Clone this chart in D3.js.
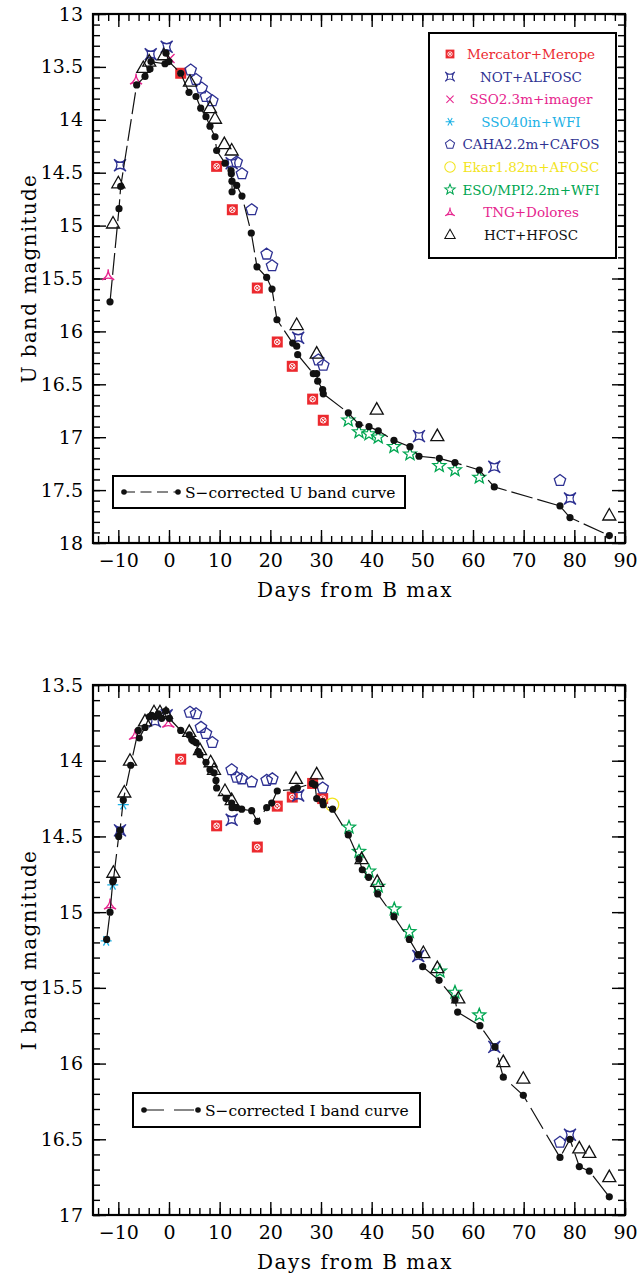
<!DOCTYPE html>
<html><head><meta charset="utf-8">
<script src="https://cdn.jsdelivr.net/npm/d3@7"></script>
<style>
body{margin:0;background:#fff}
svg text{font-family:"DejaVu Serif",serif}
</style></head>
<body><svg id="c" width="637" height="1275"></svg>
<script>
// ---------- DATA ----------
const xTickValues = [-10,0,10,20,30,40,50,60,70,80,90];
const uTickValues = [13,13.5,14,14.5,15,15.5,16,16.5,17,17.5,18];
const iTickValues = [13.5,14,14.5,15,15.5,16,16.5,17];
const instrumentNames = ["Mercator+Merope","NOT+ALFOSC","SSO2.3m+imager","SSO40in+WFI","CAHA2.2m+CAFOS","Ekar1.82m+AFOSC","ESO/MPI2.2m+WFI","TNG+Dolores","HCT+HFOSC"];

// U band: [day, mag]
const uCurve = [[-11.64,15.72],[-9.87,14.84],[-9.53,14.63],[-6.38,13.67],[-4.74,13.59],[-3.75,13.52],[-3.55,13.45],[-0.79,13.47],[-0.59,13.37],[0.0,13.45],[2.31,13.56],[3.95,13.74],[5.33,13.78],[6.26,13.89],[7.3,13.97],[8.09,14.06],[9.08,14.16],[9.41,14.29],[11.05,14.41],[12.24,14.48],[12.3,14.51],[12.43,14.58],[12.45,14.68],[13.36,14.62],[14.4,14.72],[16.24,15.07],[17.37,15.39],[19.28,15.49],[20.33,15.60],[21.31,15.89],[24.41,16.11],[25.2,16.14],[25.4,16.22],[28.48,16.40],[29.15,16.40],[29.35,16.47],[30.33,16.55],[30.45,16.59],[35.39,16.77],[37.5,16.88],[39.47,16.90],[41.3,16.94],[44.4,17.03],[47.56,17.09],[49.34,17.18],[53.35,17.20],[56.44,17.24],[61.24,17.31],[64.2,17.47],[77.17,17.65],[79.14,17.76],[86.9,17.93]];
const uMercator = [[2.31,13.56],[9.4,14.44],[12.5,14.85],[17.43,15.59],[21.37,16.10],[24.33,16.33],[28.35,16.64],[30.45,16.84]];
const uNOT = [[-9.67,14.43],[-3.61,13.38],[-0.46,13.31],[12.37,14.41],[25.5,16.06],[49.34,16.99],[64.2,17.28],[79.14,17.58]];
const uSSO23 = [[0.2,13.42]];
const uSSO40 = [];
const uCAHA = [[4.28,13.53],[5.33,13.62],[6.45,13.70],[7.3,13.78],[8.55,13.82],[13.36,14.40],[14.4,14.51],[16.32,14.85],[19.28,15.27],[20.33,15.38],[29.47,16.27],[30.45,16.32],[77.17,17.41]];
const uEkar = [];
const uESO = [[35.39,16.84],[37.5,16.95],[39.47,16.97],[41.3,17.00],[44.4,17.09],[47.56,17.16],[53.35,17.27],[56.44,17.31],[61.24,17.38]];
const uTNG = [[-12.0,15.47],[-6.5,13.62]];
const uHCT = [[-11.05,14.98],[-10.0,14.6],[-5.07,13.51],[-3.9,13.45],[-0.99,13.39],[4.14,13.64],[8.09,13.89],[9.08,13.99],[10.92,14.23],[12.37,14.29],[25.2,15.94],[29.15,16.21],[41.0,16.74],[52.96,16.99],[86.9,17.74]];

// I band: [day, mag]
const iCurve = [[-12.3,15.18],[-11.64,15.0],[-11.1,14.80],[-10.98,14.79],[-9.93,14.50],[-9.67,14.46],[-9.02,14.26],[-7.56,14.03],[-6.06,13.80],[-5.86,13.85],[-4.74,13.78],[-3.89,13.71],[-3.42,13.70],[-2.76,13.71],[-2.1,13.69],[-1.44,13.72],[-0.59,13.67],[0.06,13.72],[2.31,13.80],[4.0,13.83],[4.48,13.86],[4.79,13.87],[5.33,13.88],[5.78,13.94],[6.12,13.96],[7.3,14.01],[8.09,14.06],[8.88,14.08],[9.27,14.13],[9.4,14.18],[11.25,14.25],[12.37,14.28],[12.45,14.31],[13.36,14.31],[14.35,14.32],[16.32,14.33],[17.43,14.40],[19.28,14.31],[20.27,14.28],[21.37,14.20],[24.54,14.19],[25.33,14.18],[28.29,14.15],[28.82,14.16],[29.15,14.25],[30.33,14.27],[30.45,14.29],[32.3,14.32],[35.39,14.49],[37.5,14.65],[38.15,14.72],[39.4,14.77],[41.19,14.88],[44.4,15.03],[47.43,15.18],[49.2,15.28],[50.07,15.36],[53.3,15.45],[56.44,15.58],[56.97,15.66],[61.37,15.75],[64.34,15.89],[65.98,16.09],[69.93,16.21],[77.17,16.62],[79.14,16.50],[80.98,16.68],[82.95,16.71],[86.9,16.88]];
const iMercator = [[2.31,13.99],[9.4,14.43],[17.43,14.57],[21.37,14.30],[24.33,14.24],[28.35,14.15],[30.33,14.25]];
const iNOT = [[-9.67,14.46],[-2.76,13.74],[-0.46,13.70],[12.37,14.39],[25.5,14.23],[49.2,15.29],[64.2,15.89],[79.14,16.47]];
const iSSO23 = [];
const iSSO40 = [[-12.4,15.19],[-11.1,14.82],[-9.02,14.29]];
const iCAHA = [[4.14,13.68],[5.33,13.69],[6.31,13.78],[7.3,13.82],[8.55,13.88],[12.37,14.06],[13.36,14.11],[14.35,14.12],[16.32,14.14],[19.28,14.13],[20.39,14.12],[30.33,14.18],[77.17,16.52]];
const iEkar = [[32.22,14.29]];
const iESO = [[35.52,14.44],[37.5,14.60],[39.47,14.73],[41.3,14.83],[44.46,14.98],[47.43,15.13],[53.48,15.39],[56.44,15.53],[61.24,15.68]];
const iTNG = [[-11.64,14.95],[-6.71,13.83],[-0.14,13.75]];
const iHCT = [[-10.98,14.74],[-8.82,14.21],[-7.7,14.0],[-4.74,13.74],[-2.96,13.68],[-1.78,13.68],[-0.59,13.69],[4.0,13.81],[6.12,13.93],[8.22,14.01],[8.88,14.06],[11.05,14.20],[12.37,14.26],[25.06,14.12],[29.15,14.09],[38.02,14.65],[41.1,14.80],[50.2,15.27],[52.96,15.37],[57.1,15.57],[65.98,15.99],[69.93,16.10],[80.98,16.56],[82.95,16.59],[86.9,16.75]];

// ---------- STYLE ----------
const RED="#ec2a2f", NAVY="#2e3192", MAG="#e6248d", CYAN="#1db2e6", YEL="#f2e41c", GRN="#00a651";
const symKinds = ["merc","astroid","cross","aster","penta","circle","star","tng","tri"];
const symColors = [RED,NAVY,MAG,CYAN,NAVY,YEL,GRN,MAG,"#111"];

const svg = d3.select("#c");
const X0=93, X1=625;

function polyPath(pts){return "M"+pts.map(p=>p[0].toFixed(2)+","+p[1].toFixed(2)).join("L")+"Z";}
function drawSym(g, kind, color, x, y, k){
  k = k||1;
  const s = g.append("g").attr("transform",`translate(${x},${y}) scale(${k})`);
  const st = {fill:"none",stroke:color,"stroke-width":1.3};
  const ap=(sel)=>{for(const a in st) sel.attr(a,st[a]); return sel;};
  if(kind==="merc"){
    s.append("rect").attr("x",-5.5).attr("y",-5.5).attr("width",11).attr("height",11).attr("fill",color);
    s.append("circle").attr("r",2.8).attr("fill","none").attr("stroke","#fff").attr("stroke-width",1);
    s.append("path").attr("d","M-2,-2L2,2M-2,2L2,-2").attr("stroke","#fff").attr("stroke-width",1);
  } else if(kind==="astroid"){
    const r=6;
    ap(s.append("path").attr("d",`M${-r},${-r}Q0,0 ${r},${-r}Q0,0 ${r},${r}Q0,0 ${-r},${r}Q0,0 ${-r},${-r}Z`));
  } else if(kind==="cross"){
    ap(s.append("path").attr("d","M-4.5,-4.5L4.5,4.5M-4.5,4.5L4.5,-4.5"));
  } else if(kind==="aster"){
    const r=5.5, p=[];
    for(let i=0;i<3;i++){const a=i*Math.PI/3; p.push(`M${-r*Math.cos(a)},${-r*Math.sin(a)}L${r*Math.cos(a)},${r*Math.sin(a)}`);}
    ap(s.append("path").attr("d",p.join("")));
  } else if(kind==="penta"){
    const r=6, pts=[];
    for(let i=0;i<5;i++){const a=-Math.PI/2+i*2*Math.PI/5; pts.push([r*Math.cos(a),r*Math.sin(a)]);}
    ap(s.append("path").attr("d",polyPath(pts)));
  } else if(kind==="circle"){
    ap(s.append("circle").attr("r",6.5));
  } else if(kind==="star"){
    const R=6.8, r=2.9, pts=[];
    for(let i=0;i<10;i++){const a=-Math.PI/2+i*Math.PI/5; const rr=i%2?r:R; pts.push([rr*Math.cos(a),rr*Math.sin(a)]);}
    ap(s.append("path").attr("d",polyPath(pts)));
  } else if(kind==="tng"){
    const r=7, v=[];
    for(let i=0;i<3;i++){const a=-Math.PI/2+i*2*Math.PI/3; v.push([r*Math.cos(a),r*Math.sin(a)+1]);}
    ap(s.append("path").attr("d",`M${v[0]}Q0,1 ${v[1]}Q0,1 ${v[2]}Q0,1 ${v[0]}Z`));
  } else if(kind==="tri"){
    ap(s.append("path").attr("d","M0,-7L6.5,4.5L-6.5,4.5Z"));
  }
}

function panel(cfg){
  const x = d3.scaleLinear().domain([-15,90]).range([X0,X1]);
  const y = d3.scaleLinear().domain(cfg.ydom).range([cfg.y0,cfg.y1]);
  const g = svg.append("g");
  const minorX = d3.range(-14,90.01,2);
  const minorY = d3.range(Math.round(cfg.ydom[0]*10), Math.round(cfg.ydom[1]*10)+1).map(v=>v/10);
  const fmtX = d=> d<0 ? "\u2212"+Math.abs(d) : String(d);
  const fmtY = d=> String(+d.toFixed(1));
  const styleAxis = sel=>{sel.select(".domain").remove(); sel.selectAll("line").attr("stroke","#000").attr("stroke-width",1.4);
    sel.selectAll("text").attr("font-family","DejaVu Serif").attr("font-size",19).attr("fill","#000");};
  g.append("g").attr("transform",`translate(0,${cfg.y1})`).call(d3.axisBottom(x).tickValues(minorX).tickSize(-7).tickFormat("")).call(styleAxis);
  g.append("g").attr("transform",`translate(0,${cfg.y1})`).call(d3.axisBottom(x).tickValues(xTickValues).tickSize(-13).tickPadding(11).tickFormat(fmtX)).call(styleAxis);
  g.append("g").attr("transform",`translate(0,${cfg.y0})`).call(d3.axisTop(x).tickValues(minorX).tickSize(-7).tickFormat("")).call(styleAxis);
  g.append("g").attr("transform",`translate(0,${cfg.y0})`).call(d3.axisTop(x).tickValues(xTickValues).tickSize(-13).tickFormat("")).call(styleAxis);
  g.append("g").attr("transform",`translate(${X0},0)`).call(d3.axisLeft(y).tickValues(minorY).tickSize(-7).tickFormat("")).call(styleAxis);
  g.append("g").attr("transform",`translate(${X0},0)`).call(d3.axisLeft(y).tickValues(cfg.ticks).tickSize(-13).tickPadding(10).tickFormat(fmtY)).call(styleAxis);
  g.append("g").attr("transform",`translate(${X1},0)`).call(d3.axisRight(y).tickValues(minorY).tickSize(-7).tickFormat("")).call(styleAxis);
  g.append("g").attr("transform",`translate(${X1},0)`).call(d3.axisRight(y).tickValues(cfg.ticks).tickSize(-13).tickFormat("")).call(styleAxis);
  g.append("rect").attr("x",X0).attr("y",cfg.y0).attr("width",X1-X0).attr("height",cfg.y1-cfg.y0)
    .attr("fill","none").attr("stroke","#000").attr("stroke-width",2.2);
  g.append("text").attr("x",355).attr("y",cfg.y1+54).attr("text-anchor","middle").attr("font-size",20)
    .attr("letter-spacing",1.5).text("Days from B max");
  g.append("text").attr("transform",`translate(36,${(cfg.y0+cfg.y1)/2}) rotate(-90)`).attr("text-anchor","middle")
    .attr("font-size",20).attr("letter-spacing",1.3).text(cfg.ytitle);
  const sg = g.append("g");
  cfg.sets.forEach((arr,i)=>{ arr.forEach(d=>drawSym(sg, symKinds[i], symColors[i], x(d[0]), y(d[1]), 1)); });
  const line = d3.line().x(d=>x(d[0])).y(d=>y(d[1]));
  g.append("path").datum(cfg.curve).attr("d",line).attr("fill","none").attr("stroke","#111")
    .attr("stroke-width",1.2).attr("stroke-dasharray",cfg.dash);
  g.selectAll("circle.pt").data(cfg.curve).join("circle").attr("class","pt")
    .attr("cx",d=>x(d[0])).attr("cy",d=>y(d[1])).attr("r",3.6).attr("fill","#111");
  const L = cfg.leg;
  g.append("rect").attr("x",L.x).attr("y",L.y).attr("width",L.w).attr("height",L.h)
    .attr("fill","#fff").attr("stroke","#000").attr("stroke-width",2);
  const ly = L.y+L.h/2;
  g.append("line").attr("x1",L.x+11).attr("x2",L.x+65).attr("y1",ly).attr("y2",ly)
    .attr("stroke","#111").attr("stroke-width",1.2).attr("stroke-dasharray",L.dash);
  [L.x+11,L.x+65].forEach(cx=>g.append("circle").attr("cx",cx).attr("cy",ly).attr("r",2.8).attr("fill","#111"));
  g.append("text").attr("x",L.x+72).attr("y",ly+5.5).attr("font-size",15.5).text(cfg.legText);
  return g;
}

panel({ydom:[13,18], y0:14, y1:543, ticks:uTickValues, ytitle:"U band magnitude",
  sets:[uMercator,uNOT,uSSO23,uSSO40,uCAHA,uEkar,uESO,uTNG,uHCT], curve:uCurve, dash:"22,5",
  leg:{x:113,y:476,w:292,h:32,dash:"11,5.5"}, legText:"S\u2212corrected U band curve"});
panel({ydom:[13.5,17], y0:685, y1:1215, ticks:iTickValues, ytitle:"I band magnitude",
  sets:[iMercator,iNOT,iSSO23,iSSO40,iCAHA,iEkar,iESO,iTNG,iHCT], curve:iCurve, dash:"24,7",
  leg:{x:133,y:1093,w:287,h:34,dash:"20,10"}, legText:"S\u2212corrected I band curve"});

const lg = svg.append("g");
lg.append("rect").attr("x",429).attr("y",33).attr("width",187).attr("height",225)
  .attr("fill","#fff").attr("stroke","#000").attr("stroke-width",2);
instrumentNames.forEach((n,i)=>{
  const yy = 54 + i*22.6;
  drawSym(lg, symKinds[i], symColors[i], 450, yy, 0.8);
  lg.append("text").attr("x",531).attr("y",yy+5).attr("text-anchor","middle").attr("font-size",13.5)
    .attr("fill",symColors[i]).text(n);
});
</script></body></html>
